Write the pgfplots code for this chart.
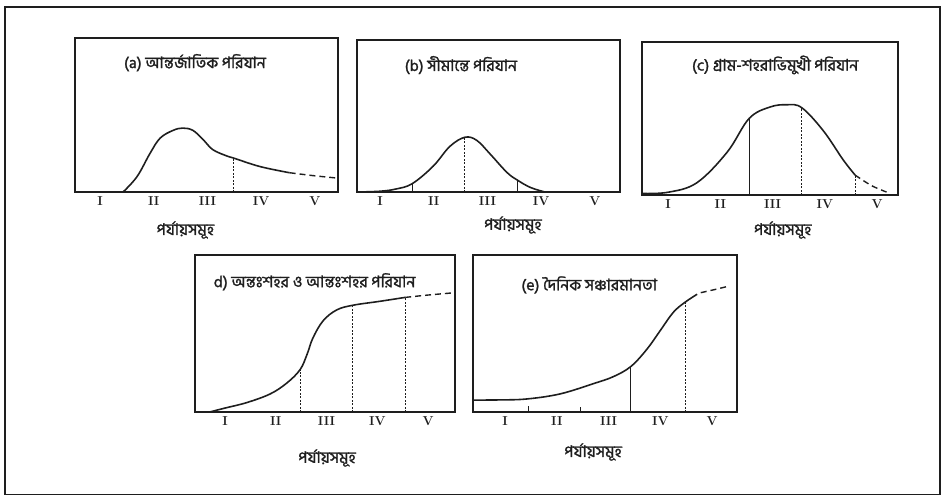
\documentclass[border=0pt]{standalone}
\usepackage{pgfplots}
\pgfplotsset{compat=1.18}
\usepackage{fontspec}
\newfontfamily\bn[Script=Bengali, FakeBold=1.5]{Hind Siliguri}
\definecolor{ink}{HTML}{1E1E1E}
\tikzset{
  ttl/.style={font=\bn\fontsize{16}{18}\selectfont, text=ink, inner sep=0pt},
  xl/.style={font=\bn\fontsize{16}{18}\selectfont, text=ink, inner sep=0pt},
}
\pgfplotsset{
  panel/.style={
    scale only axis, axis line style={ink, line width=1.8pt},
    ymin=0, ymax=100, ytick=\empty,
    xtick={1,2,3,4,5}, xticklabels={I,II,III,IV,V},
    major tick length=0pt,
    xticklabel style={font=\fontsize{13}{14}\selectfont\bfseries, text=ink, yshift=-1pt},
    clip=false,
  },
  curve/.style={ink, line width=1.6pt, smooth, tension=0.6, no marks},
  dcurve/.style={ink, line width=1.4pt, dash pattern=on 6pt off 4pt, smooth, no marks},
  vl/.style={ink, line width=0.9pt, no marks},
  vd/.style={ink, line width=0.9pt, dash pattern=on 2pt off 1.5pt, no marks},
}
\begin{document}
\begin{tikzpicture}
\useasboundingbox (0bp,0bp) rectangle (943bp,496bp);
\draw[ink, line width=1.3pt] (5bp,1.5bp) rectangle (940bp,489bp);

% (a)
\begin{axis}[panel, at={(75bp,304bp)}, anchor=south west, width=263bp, height=154bp, xmin=0.535, xmax=5.43]
\addplot[curve] coordinates {(1.43,0) (1.69,10) (1.93,25) (2.12,35) (2.36,40) (2.54,41.5) (2.73,40) (2.92,34) (3.1,27.5) (3.36,23.4) (3.49,22) (3.98,16.5) (4.53,12.5)};
\addplot[dcurve] coordinates {(4.53,12.5) (5.0,10.5) (5.43,9)};
\addplot[vd] coordinates {(3.49,0) (3.49,22)};
\node[ttl] at (rel axis cs:0.456,0.84) {(a) আন্তর্জাতিক পরিযান};
\node[xl] at (rel axis cs:0.42,-0.247) {পর্যায়সমূহ};
\end{axis}

% (b)
\begin{axis}[panel, at={(357bp,304bp)}, anchor=south west, width=263bp, height=152bp, xmin=0.57, xmax=5.47]
\addplot[curve] coordinates {(0.57,0) (1,0.5) (1.3,2) (1.6,5.5) (1.99,17) (2.3,30) (2.58,36) (2.8,34) (3.05,25) (3.36,13) (3.55,8) (3.8,3) (4.07,0)};
\addplot[vd] coordinates {(2.58,0) (2.58,36)};
\addplot[vl] coordinates {(3.55,0) (3.55,8)};
\addplot[vl] coordinates {(1.6,0) (1.6,5)};
\node[ttl] at (rel axis cs:0.395,0.835) {(b) সীমান্তে পরিযান};
\node[xl] at (rel axis cs:0.593,-0.217) {পর্যায়সমূহ};
\end{axis}

% (c)
\begin{axis}[panel, at={(642bp,301bp)}, anchor=south west, width=256bp, height=153bp, xmin=0.50, xmax=5.40]
\addplot[curve] coordinates {(0.5,1) (1,1.8) (1.55,8) (2.13,28) (2.55,50) (2.95,57.5) (3.28,59) (3.56,57) (3.97,42) (4.35,23) (4.58,13)};
\addplot[dcurve] coordinates {(4.58,13) (4.9,6) (5.25,1)};
\addplot[vl] coordinates {(2.55,0) (2.55,50)};
\addplot[vd] coordinates {(3.56,0) (3.56,57)};
\addplot[vd] coordinates {(4.58,0) (4.58,13)};
\node[ttl] at (rel axis cs:0.52,0.85) {(c) গ্রাম-শহরাভিমুখী পরিযান};
\node[xl] at (rel axis cs:0.55,-0.229) {পর্যায়সমূহ};
\end{axis}

% (d)
\begin{axis}[panel, at={(195bp,84bp)}, anchor=south west, width=260bp, height=157bp, xmin=0.41, xmax=5.53]
\addplot[curve] coordinates {(0.70,0) (1.0,2.5) (1.43,6) (1.89,11.5) (2.22,18.5) (2.48,27) (2.62,37) (2.73,47) (2.93,58) (3.2,65) (3.52,68) (4.05,70.5) (4.55,73)};
\addplot[dcurve] coordinates {(4.55,73) (5.0,74.5) (5.53,76)};
\addplot[vd] coordinates {(2.48,0) (2.48,27)};
\addplot[vd] coordinates {(3.52,0) (3.52,68)};
\addplot[vd] coordinates {(4.55,0) (4.55,73)};
\node[ttl] at (rel axis cs:0.46,0.83) {d) অন্তঃশহর ও আন্তঃশহর পরিযান};
\node[xl] at (rel axis cs:0.508,-0.293) {পর্যায়সমূহ};
\end{axis}

% (e)
\begin{axis}[panel, at={(473bp,84bp)}, anchor=south west, width=264bp, height=157bp, xmin=0.38, xmax=5.48]
\addplot[curve] coordinates {(0.38,7.6) (0.9,7.7) (1.42,8.3) (2.06,11.5) (2.70,18) (3.09,22.5) (3.43,29) (3.74,40) (4.0,52) (4.25,63.5) (4.48,70) (4.71,75)};
\addplot[dcurve] coordinates {(4.78,76) (5.05,78) (5.30,80)};
\addplot[vl] coordinates {(3.43,0) (3.43,29)};
\addplot[vd] coordinates {(4.48,0) (4.48,70)};
\addplot[vl] coordinates {(1.45,0) (1.45,4)};
\addplot[vl] coordinates {(2.45,0) (2.45,3)};
\node[ttl] at (rel axis cs:0.44,0.81) {(e) দৈনিক সঞ্চারমানতা};
\node[xl] at (rel axis cs:0.455,-0.255) {পর্যায়সমূহ};
\end{axis}
\end{tikzpicture}
\end{document}
